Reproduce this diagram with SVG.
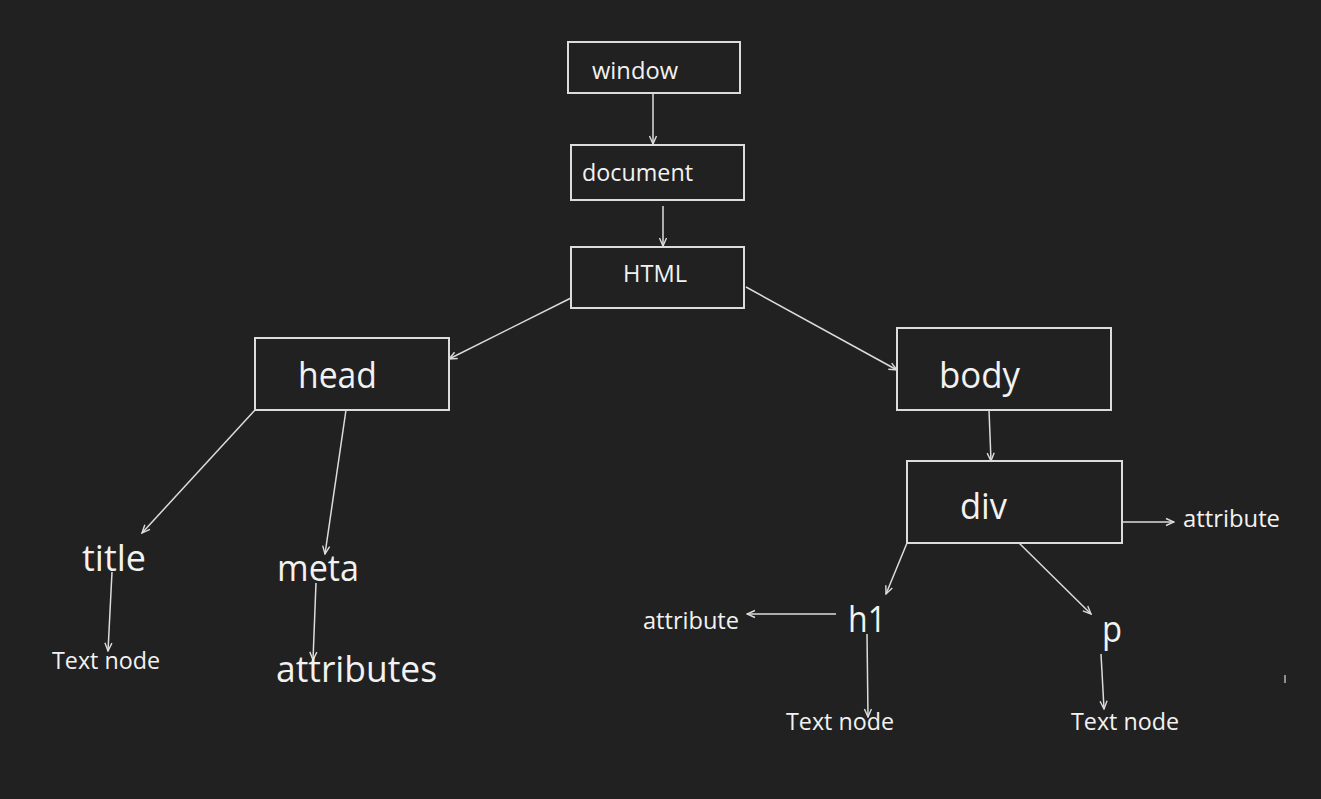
<svg xmlns="http://www.w3.org/2000/svg" width="1321" height="799" viewBox="0 0 1321 799">
<defs>
<marker id="arr" viewBox="0 0 10 10" refX="9" refY="5" markerWidth="10" markerHeight="10" markerUnits="userSpaceOnUse" orient="auto">
<polyline points="1,1.5 9,5 1,8.5" fill="none" stroke="#dcdcdc" stroke-width="1.4"/>
</marker>
<style>
.box{fill:none;stroke:#dcdcdc;stroke-width:2}
.ln{fill:none;stroke:#dcdcdc;stroke-width:1.5;marker-end:url(#arr)}
.s{font-family:"Open Sans","Noto Sans","DejaVu Sans",sans-serif;font-size:23px;fill:#f2f2f2}
.b{font-family:"Open Sans","Noto Sans","DejaVu Sans",sans-serif;font-size:36px;fill:#f2f2f2}
</style>
</defs>
<rect width="1321" height="799" fill="#212121"/>
<g id="connectors">
<line class="ln" x1="653" y1="93" x2="653" y2="144"/>
<line class="ln" x1="663" y1="206" x2="663" y2="246"/>
<line class="ln" x1="571" y1="298" x2="449" y2="359"/>
<line class="ln" x1="746" y1="287" x2="897" y2="370"/>
<line class="ln" x1="255" y1="410" x2="142" y2="533"/>
<line class="ln" x1="346" y1="410" x2="325" y2="554"/>
<line class="ln" x1="112" y1="572" x2="108" y2="651"/>
<line class="ln" x1="316" y1="583" x2="313" y2="660"/>
<line class="ln" x1="989" y1="410" x2="991" y2="461"/>
<line class="ln" x1="1122" y1="522" x2="1174" y2="522"/>
<line class="ln" x1="907" y1="543" x2="886" y2="594"/>
<line class="ln" x1="1019" y1="543" x2="1091" y2="614"/>
<line class="ln" x1="836" y1="614" x2="747" y2="614"/>
<line class="ln" x1="867" y1="634" x2="868" y2="717"/>
<line class="ln" x1="1101" y1="654" x2="1104" y2="709"/>
<line x1="1285" y1="675" x2="1285" y2="683" stroke="#dcdcdc" stroke-width="1.2"/>
</g>
<g id="window"><rect class="box" x="568" y="42" width="172" height="51"/><text class="s" x="592" y="79" textLength="86" lengthAdjust="spacingAndGlyphs">window</text></g>
<g id="document"><rect class="box" x="571" y="145" width="173" height="55"/><text class="s" x="582" y="181" textLength="111" lengthAdjust="spacingAndGlyphs">document</text></g>
<g id="html"><rect class="box" x="571" y="247" width="173" height="61"/><text class="s" x="623" y="282" textLength="64" lengthAdjust="spacingAndGlyphs">HTML</text></g>
<g id="head"><rect class="box" x="255" y="338" width="194" height="72"/><text class="b" x="298" y="388" textLength="79" lengthAdjust="spacingAndGlyphs">head</text></g>
<g id="body"><rect class="box" x="897" y="328" width="214" height="82"/><text class="b" x="939" y="388" textLength="81" lengthAdjust="spacingAndGlyphs">body</text></g>
<g id="div"><rect class="box" x="907" y="461" width="215" height="82"/><text class="b" x="960" y="519" textLength="47" lengthAdjust="spacingAndGlyphs">div</text></g>
<g id="div-attribute"><text class="s" x="1183" y="527" textLength="97" lengthAdjust="spacingAndGlyphs">attribute</text></g>
<g id="title"><text class="b" x="82" y="571" textLength="64" lengthAdjust="spacingAndGlyphs">title</text></g>
<g id="meta"><text class="b" x="277" y="581" textLength="82" lengthAdjust="spacingAndGlyphs">meta</text></g>
<g id="title-text"><text class="s" x="52" y="669" textLength="108" lengthAdjust="spacingAndGlyphs">Text node</text></g>
<g id="attributes"><text class="b" x="276" y="682" textLength="161" lengthAdjust="spacingAndGlyphs">attributes</text></g>
<g id="h1"><text class="b" x="848" y="632" textLength="38" lengthAdjust="spacingAndGlyphs">h1</text></g>
<g id="h1-attribute"><text class="s" x="643" y="629" textLength="96" lengthAdjust="spacingAndGlyphs">attribute</text></g>
<g id="p"><text class="b" x="1102" y="642" textLength="20" lengthAdjust="spacingAndGlyphs">p</text></g>
<g id="h1-text"><text class="s" x="786" y="730" textLength="108" lengthAdjust="spacingAndGlyphs">Text node</text></g>
<g id="p-text"><text class="s" x="1071" y="730" textLength="108" lengthAdjust="spacingAndGlyphs">Text node</text></g>
</svg>
